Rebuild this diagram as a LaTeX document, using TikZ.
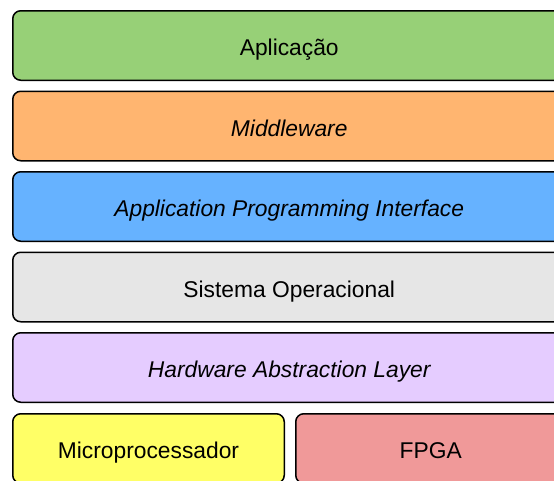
\documentclass[tikz,border=0pt]{standalone}
\usepackage{fontspec}
\setmainfont{Liberation Sans}
\definecolor{cApp}{RGB}{151,208,119}
\definecolor{cMid}{RGB}{255,181,112}
\definecolor{cApi}{RGB}{102,178,255}
\definecolor{cOs}{RGB}{230,230,230}
\definecolor{cHal}{RGB}{229,204,255}
\definecolor{cCpu}{RGB}{255,255,102}
\definecolor{cFpga}{RGB}{240,153,153}
\begin{document}
\begin{tikzpicture}[x=1pt,y=-1pt,
  layer/.style={draw=black,line width=1.5pt,rounded corners=8pt,
    minimum height=69.5pt,inner sep=0pt,anchor=north west,
    text height=20.3pt,text depth=0pt,
    font=\fontsize{22.8pt}{26pt}\selectfont},
  wide/.style={layer,minimum width=553pt},
  half/.style={layer,minimum width=271.5pt}]
\useasboundingbox (0,0) rectangle (554,480);
\clip (0,0) rectangle (554,480);
\node[wide,fill=cApp] (app) at (12,10) {Aplicação};
\node[wide,fill=cMid] (mid) at (12,90.5) {\itshape Middleware};
\node[wide,fill=cApi] (api) at (12,171) {\itshape Application Programming Interface};
\node[wide,fill=cOs] (os) at (12,251.5) {Sistema Operacional};
\node[wide,fill=cHal] (hal) at (12,332) {\itshape Hardware Abstraction Layer};
\node[half,fill=cCpu] (cpu) at (12,413) {Microprocessador};
\node[half,minimum width=270pt,fill=cFpga] (fpga) at (295,413) {FPGA};
\end{tikzpicture}
\end{document}
